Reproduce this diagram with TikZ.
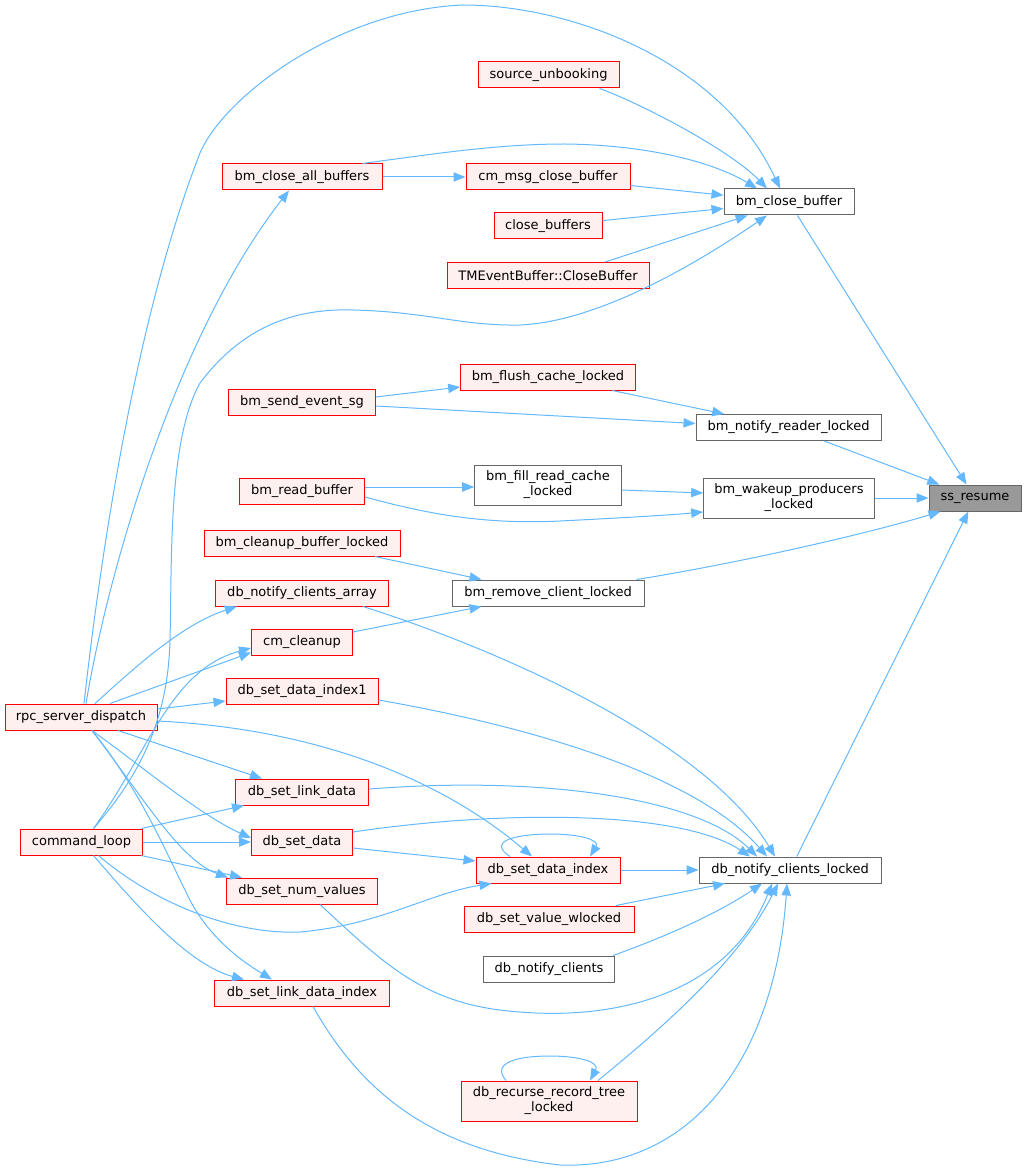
\documentclass[tikz,border=0pt]{standalone}
\usepackage{fontspec}
\setmainfont{DejaVu Sans}
\usetikzlibrary{arrows.meta,calc}
\definecolor{edgec}{HTML}{63B8FF}
\definecolor{redb}{HTML}{FF0000}
\definecolor{redf}{HTML}{FFF0F0}
\definecolor{grayb}{HTML}{666666}
\definecolor{rootf}{HTML}{999999}
\begin{document}
\begin{tikzpicture}[x=0.75pt,y=-0.75pt,
  box/.style={draw, line width=0.75pt, inner sep=0pt, minimum height=19.5pt, font=\fontsize{9.75}{11.25}\selectfont, align=center, text=black},
  rnode/.style={box, draw=redb, fill=redf},
  wnode/.style={box, draw=grayb, fill=white},
  root/.style={box, draw=grayb, fill=rootf},
  two/.style={minimum height=30pt},
  cedge/.style={color=edgec, line width=0.75pt, -{Triangle[length=9pt,width=7pt]}}]
\useasboundingbox (0,0) rectangle (1028,1169);
% nodes
\node[root, minimum width=69pt] (ss) at (975,498) {ss\_resume};
\node[wnode, minimum width=97.5pt] (bmcb) at (789,202) {bm\_close\_buffer};
\node[wnode, minimum width=138.75pt] (bmnr) at (788.5,427.5) {bm\_notify\_reader\_locked};
\node[wnode, two, minimum width=128pt] (bmwp) at (789,498) {bm\_wakeup\_producers\\\_locked};
\node[wnode, minimum width=144pt] (bmrc) at (548,593) {bm\_remove\_client\_locked};
\node[wnode, minimum width=136.5pt] (dbncl) at (790,870) {db\_notify\_clients\_locked};
\node[rnode, minimum width=105.75pt] (su) at (548.5,75) {source\_unbooking};
\node[rnode, minimum width=120pt] (bmcab) at (302,177) {bm\_close\_all\_buffers};
\node[rnode, minimum width=123pt] (cmmcb) at (548,177) {cm\_msg\_close\_buffer};
\node[rnode, minimum width=81pt] (cb) at (548,226) {close\_buffers};
\node[rnode, minimum width=151.5pt] (tme) at (548,275.5) {TMEventBuffer::CloseBuffer};
\node[rnode, minimum width=131pt] (bmfc) at (548,377) {bm\_flush\_cache\_locked};
\node[rnode, minimum width=110pt] (bmses) at (302,402) {bm\_send\_event\_sg};
\node[wnode, two, minimum width=110pt] (bmfrc) at (548,485) {bm\_fill\_read\_cache\\\_locked};
\node[rnode, minimum width=94pt] (bmrb) at (302,491) {bm\_read\_buffer};
\node[rnode, minimum width=147pt] (bmcbl) at (302,543) {bm\_cleanup\_buffer\_locked};
\node[rnode, minimum width=130pt] (dbnca) at (302,593) {db\_notify\_clients\_array};
\node[rnode, minimum width=75.75pt] (cmc) at (302,642) {cm\_cleanup};
\node[rnode, minimum width=114pt] (dbsdi1) at (302,691) {db\_set\_data\_index1};
\node[rnode, minimum width=114pt] (rpc) at (81,717) {rpc\_server\_dispatch};
\node[rnode, minimum width=99.75pt] (dbsld) at (302,792) {db\_set\_link\_data};
\node[rnode, minimum width=92pt] (cl) at (81.5,842) {command\_loop};
\node[rnode, minimum width=75.75pt] (dbsd) at (302,842) {db\_set\_data};
\node[rnode, minimum width=108pt] (dbsdi) at (548,870) {db\_set\_data\_index};
\node[rnode, minimum width=113.25pt] (dbsnv) at (302,891) {db\_set\_num\_values};
\node[rnode, minimum width=127.5pt] (dbsvw) at (549,919) {db\_set\_value\_wlocked};
\node[wnode, minimum width=98.25pt] (dbnc) at (549,969) {db\_notify\_clients};
\node[rnode, minimum width=131.25pt] (dbsldi) at (302,993) {db\_set\_link\_data\_index};
\node[rnode, two, minimum width=132pt] (dbrrt) at (549,1101) {db\_recurse\_record\_tree\\\_locked};
% edges to ss_resume
\draw[cedge] (bmcb) -- (ss);
\draw[cedge] (bmnr) -- (ss);
\draw[cedge] (bmwp) -- (ss);
\draw[cedge] ($(bmrc.north east)+(-8,0)$) .. controls (740,563) and (870,533) .. ($(ss.south west)+(12,0)$);
\draw[cedge] (dbncl) -- (ss);
% edges to bm_close_buffer
\draw[cedge] ($(su.south east)+(-20,0)$) .. controls (640,103) and (730,150) .. ($(bmcb.north)+(-22,0)$);
\draw[cedge] ($(bmcab.north east)+(-20,0)$) .. controls (440,153) and (500,144) .. (565,144) .. controls (650,145) and (715,163) .. ($(bmcb.north)+(-32,0)$);
\draw[cedge] (cmmcb) -- (bmcb);
\draw[cedge] (cb) -- (bmcb);
\draw[cedge] ($(tme.north)+(57,0)$) -- (bmcb);
\draw[cedge] ($(rpc.north)+(3,0)$) .. controls (100,560) and (135,320) .. (200,153) .. controls (225,95) and (340,10) .. (463,5) .. controls (570,5) and (720,60) .. ($(bmcb.north)+(-9,0)$);
\draw[cedge] ($(cl.north)+(12,0)$) .. controls (140,775) and (168,720) .. (170,640) .. controls (172,560) and (168,440) .. (200,383) .. controls (240,330) and (290,308) .. (353,310) .. controls (430,312) and (460,326) .. (520,325) .. controls (590,322) and (680,275) .. ($(bmcb.south)+(-22,0)$);
% bm_close_all_buffers
\draw[cedge] ($(rpc.north)+(5,0)$) .. controls (110,560) and (180,330) .. ($(bmcab.south)+(-13,0)$);
\draw[cedge] (bmcab) -- (cmmcb);
% bm_flush_cache_locked, bm_notify_reader_locked
\draw[cedge] ($(bmses.east)+(0,-5)$) -- ($(bmfc.west)+(0,10)$);
\draw[cedge] ($(bmses.east)+(0,4)$) -- ($(bmnr.west)+(0,-4)$);
\draw[cedge] (bmfc) -- (bmnr);
% bm_fill_read_cache_locked, bm_wakeup_producers_locked
\draw[cedge] ($(bmrb.east)+(0,-4)$) -- ($(bmfrc.west)+(0,2)$);
\draw[cedge] ($(bmrb.east)+(0,6)$) .. controls (420,512) and (480,525) .. (560,521) .. controls (620,518) and (670,515) .. ($(bmwp.west)+(0,14)$);
\draw[cedge] ($(bmfrc.east)+(0,5)$) -- ($(bmwp.west)+(0,-5)$);
% bm_remove_client_locked
\draw[cedge] ($(bmcbl.south)+(73,0)$) -- ($(bmrc.north west)+(30,0)$);
\draw[cedge] ($(cmc.east)+(0,-10)$) -- ($(bmrc.south west)+(30,0)$);
% cm_cleanup
\draw[cedge] ($(rpc.north)+(29,0)$) -- ($(cmc.south west)+(0,-3)$);
\draw[cedge] ($(cl.north)+(12,0)$) .. controls (150,750) and (170,670) .. ($(cmc.west)+(0,6)$);
% db_notify_clients_array
\draw[cedge] ($(rpc.north)+(14,0)$) .. controls (130,672) and (180,625) .. ($(dbnca.south west)+(22,0)$);
% db_set_data_index1
\draw[cedge] ($(rpc.east)+(0,-8)$) -- ($(dbsdi1.west)+(0,10)$);
% rpc -> db_set_data_index
\draw[cedge] ($(rpc.east)+(0,4)$) .. controls (300,728) and (430,770) .. ($(dbsdi.north)+(-16,0)$);
% rpc bottom
\draw[cedge] ($(rpc.south)+(37,0)$) -- ($(dbsld.north)+(-40,0)$);
\draw[cedge] ($(rpc.south)+(11,0)$) .. controls (140,765) and (200,815) .. ($(dbsd.west)+(0,-4)$);
\draw[cedge] ($(rpc.south)+(11,0)$) .. controls (145,800) and (180,860) .. ($(dbsnv.north west)+(2,0)$);
\draw[cedge] ($(rpc.south)+(11,0)$) .. controls (140,790) and (165,850) .. (185,890) .. controls (205,935) and (240,960) .. ($(dbsldi.north)+(-30,0)$);
% command_loop
\draw[cedge] ($(cl.north east)+(-2,0)$) -- ($(dbsld.south west)+(9,0)$);
\draw[cedge] (cl) -- (dbsd);
\draw[cedge] ($(cl.south east)+(-2,0)$) -- ($(dbsnv.north west)+(16,0)$);
\draw[cedge] ($(cl.south)+(17,0)$) .. controls (150,900) and (230,935) .. (300,932) .. controls (380,925) and (430,893) .. ($(dbsdi.south west)+(16,0)$);
\draw[cedge] ($(cl.south)+(12,0)$) .. controls (140,910) and (190,965) .. ($(dbsldi.north west)+(30,0)$);
% to db_notify_clients_locked (top)
\draw[cedge] ($(dbnca.south)+(61,0)$) .. controls (500,650) and (705,740) .. ($(dbncl.north)+(-15,0)$);
\draw[cedge] ($(dbsdi1.east)+(0,9)$) .. controls (550,730) and (700,780) .. ($(dbncl.north)+(-23,0)$);
\draw[cedge] ($(dbsld.east)+(0,-3)$) .. controls (550,775) and (700,800) .. ($(dbncl.north)+(-33,0)$);
\draw[cedge] ($(dbsd.east)+(0,-10)$) .. controls (500,810) and (680,810) .. ($(dbncl.north)+(-40,0)$);
% db_set_data_index
\draw[cedge] ($(dbsd.east)+(0,6)$) -- ($(dbsdi.west)+(0,-9)$);
\draw[cedge] ($(dbsdi.north)+(-38,0)$) .. controls (485,840) and (520,834) .. (550,834) .. controls (580,834) and (600,840) .. ($(dbsdi.north)+(42,0)$);
\draw[cedge] (dbsdi) -- (dbncl);
% to db_notify_clients_locked (bottom)
\draw[cedge] ($(dbsnv.south)+(18,0)$) .. controls (380,960) and (420,1000) .. (500,1010) .. controls (620,1025) and (730,990) .. ($(dbncl.south)+(-18,0)$);
\draw[cedge] ($(dbsvw.north)+(67,0)$) -- ($(dbncl.south)+(-65,0)$);
\draw[cedge] ($(dbnc.north east)+(-2,0)$) .. controls (670,935) and (720,912) .. ($(dbncl.south)+(-28,0)$);
\draw[cedge] ($(dbsldi.south)+(11,0)$) .. controls (360,1090) and (430,1150) .. (560,1165) .. controls (690,1170) and (775,1060) .. ($(dbncl.south)+(-3,0)$);
\draw[cedge] ($(dbrrt.north)+(49,0)$) .. controls (660,1030) and (740,960) .. ($(dbncl.south)+(-12,0)$);
\draw[cedge] ($(dbrrt.north)+(-43,0)$) .. controls (490,1062) and (520,1056) .. (549,1056) .. controls (580,1056) and (600,1062) .. ($(dbrrt.north)+(41,0)$);
\end{tikzpicture}
\end{document}
